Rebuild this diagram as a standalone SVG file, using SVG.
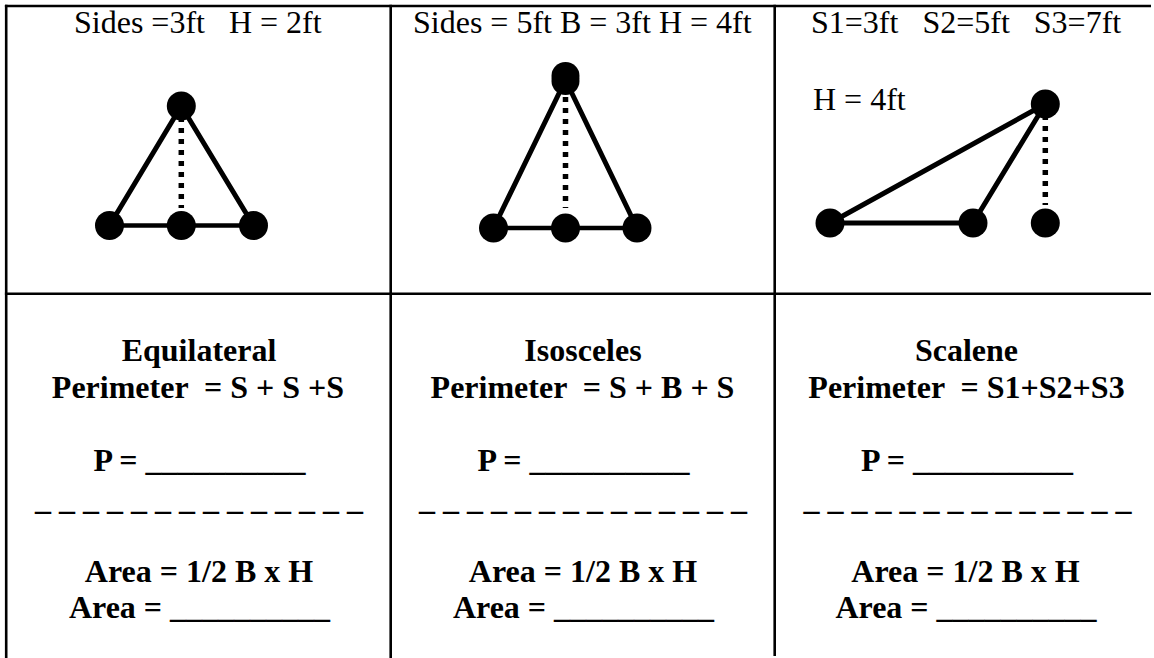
<svg xmlns="http://www.w3.org/2000/svg" width="1154" height="658" viewBox="0 0 1154 658">
<style>
.grid{stroke:#000;stroke-width:2.6;fill:none}
.side{stroke:#000;stroke-width:5;fill:none;stroke-linecap:round}
.base{stroke:#000;stroke-width:4.5;fill:none}
.dot{stroke:#000;stroke-width:5.5;fill:none;stroke-dasharray:5 6}
.v{fill:#000}
.t{font-family:"Liberation Serif","Times New Roman",serif;font-size:32px;fill:#000;white-space:pre}
.b{font-family:"Liberation Serif","Times New Roman",serif;font-size:32px;font-weight:bold;fill:#000;white-space:pre;text-anchor:middle}
</style>
<rect width="1154" height="658" fill="#fff"/>
<g id="table">
<line class="grid" x1="4.9" y1="6" x2="1151" y2="6"/>
<line class="grid" x1="4.9" y1="293.7" x2="1151" y2="293.7"/>
<line class="grid" x1="6.2" y1="4.7" x2="6.2" y2="658"/>
<line class="grid" x1="390.7" y1="4.7" x2="390.7" y2="658"/>
<line class="grid" x1="774.7" y1="4.7" x2="774.7" y2="656"/>
</g>
<g id="connectors">
<line class="side" x1="181.3" y1="106" x2="109.5" y2="225.5"/>
<line class="side" x1="181.3" y1="106" x2="253.5" y2="225.5"/>
<line class="base" x1="109.5" y1="225.5" x2="253.5" y2="225.5"/>
<line class="dot" x1="181.3" y1="117" x2="181.3" y2="208"/>
<line class="side" x1="565.5" y1="80" x2="493.5" y2="228"/>
<line class="side" x1="565.5" y1="80" x2="637" y2="228"/>
<line class="base" x1="493.5" y1="228" x2="637" y2="228"/>
<line class="dot" x1="565.5" y1="97" x2="565.5" y2="208"/>
<line class="side" x1="1045.3" y1="104" x2="830" y2="223"/>
<line class="side" x1="1045.3" y1="104" x2="973" y2="223"/>
<line class="side" x1="830" y1="223" x2="973" y2="223"/>
<line class="dot" x1="1045.3" y1="115" x2="1045.3" y2="205"/>
</g>
<g id="equilateral">
<text class="t" x="74" y="33">Sides =3ft   H = 2ft</text>
<circle class="v" cx="181.3" cy="106" r="14.5"/>
<circle class="v" cx="109.5" cy="225.5" r="14.5"/>
<circle class="v" cx="181.3" cy="225.5" r="14.5"/>
<circle class="v" cx="253.5" cy="225.5" r="14.5"/>
<text class="b" x="199" y="361">Equilateral</text>
<text class="b" x="198" y="398">Perimeter  = S + S +S</text>
<text class="b" x="199.5" y="471">P = __________</text>
<text class="b" x="199" y="510">_ _ _ _ _ _ _ _ _ _ _ _ _ _</text>
<text class="b" x="199" y="582">Area = 1/2 B x H</text>
<text class="b" x="199.5" y="618">Area = __________</text>
</g>
<g id="isosceles">
<text class="t" x="413" y="33">Sides = 5ft B = 3ft H = 4ft</text>
<circle class="v" cx="565.5" cy="76" r="14"/>
<circle class="v" cx="565.5" cy="81" r="14"/>
<circle class="v" cx="493.5" cy="228" r="14.5"/>
<circle class="v" cx="565.5" cy="228" r="14.5"/>
<circle class="v" cx="637" cy="228" r="14.5"/>
<text class="b" x="583" y="361">Isosceles</text>
<text class="b" x="582.5" y="398">Perimeter  = S + B + S</text>
<text class="b" x="583.5" y="471">P = __________</text>
<text class="b" x="583" y="510">_ _ _ _ _ _ _ _ _ _ _ _ _ _</text>
<text class="b" x="583" y="582">Area = 1/2 B x H</text>
<text class="b" x="583.5" y="618">Area = __________</text>
</g>
<g id="scalene">
<text class="t" x="811" y="33">S1=3ft   S2=5ft   S3=7ft</text>
<text class="t" x="813" y="110">H = 4ft</text>
<circle class="v" cx="1045.3" cy="104" r="14.5"/>
<circle class="v" cx="830" cy="223" r="14.5"/>
<circle class="v" cx="973" cy="223" r="14.5"/>
<circle class="v" cx="1045.3" cy="223" r="14.5"/>
<text class="b" x="966.5" y="361">Scalene</text>
<text class="b" x="966.5" y="398">Perimeter  = S1+S2+S3</text>
<text class="b" x="967" y="471">P = __________</text>
<text class="b" x="967.5" y="510">_ _ _ _ _ _ _ _ _ _ _ _ _ _</text>
<text class="b" x="965.5" y="582">Area = 1/2 B x H</text>
<text class="b" x="966" y="618">Area = __________</text>
</g>
</svg>
